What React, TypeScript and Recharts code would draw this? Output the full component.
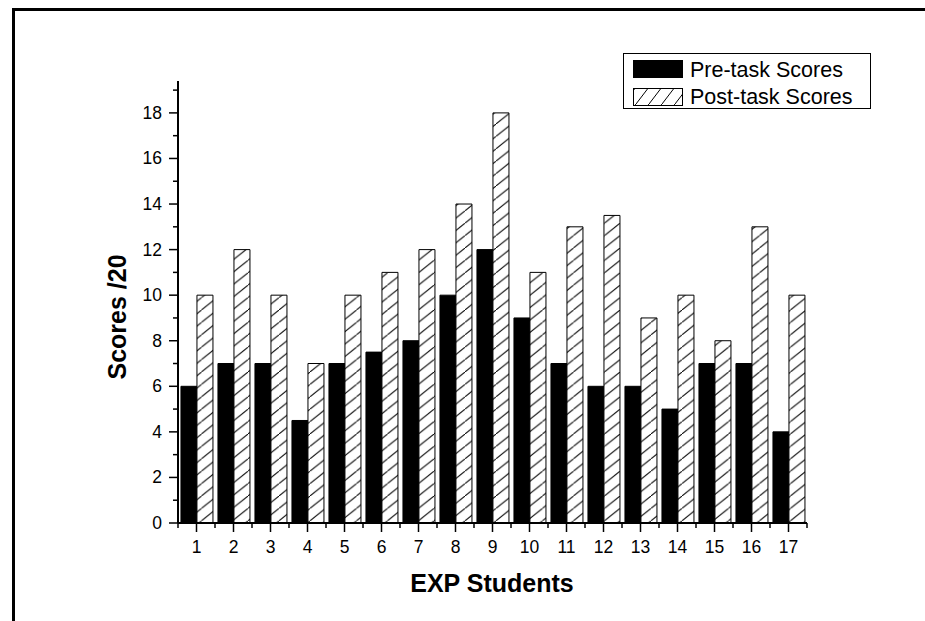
import { BarChart, Bar, XAxis, YAxis, Legend } from "recharts";

const students = ["1", "2", "3", "4", "5", "6", "7", "8", "9", "10", "11", "12", "13", "14", "15", "16", "17"];
const preScores = [6, 7, 7, 4.5, 7, 7.5, 8, 10, 12, 9, 7, 6, 6, 5, 7, 7, 4];
const postScores = [10, 12, 10, 7, 10, 11, 12, 14, 18, 11, 13, 13.5, 9, 10, 8, 13, 10];
const yTicks = [0, 1, 2, 3, 4, 5, 6, 7, 8, 9, 10, 11, 12, 13, 14, 15, 16, 17, 18, 19];

const data = students.map((s, i) => ({ name: s, pre: preScores[i], post: postScores[i] }));

const W = 925;
const H = 621;
const PLOT_LEFT = 178;
const PLOT_RIGHT = 807;
const PLOT_TOP = 81;
const PLOT_BOTTOM = 523;
const BAND = (PLOT_RIGHT - PLOT_LEFT) / students.length;
const FONT = "'Liberation Sans', Arial, sans-serif";

function YTick(props: any) {
    const { x, y, payload } = props;
    const major = payload.value % 2 === 0;
    return (
        <g>
            <line x1={x} x2={x - (major ? 9 : 5)} y1={y} y2={y} stroke="#000" strokeWidth={1.5} />
            {major && (
                <text x={x - 16} y={y} dy={6} textAnchor="end" fontSize={17.5} fontFamily={FONT} fill="#000">
                    {payload.value}
                </text>
            )}
        </g>
    );
}

function XTick(props: any) {
    const { x, y, payload, index } = props;
    const half = BAND / 2;
    return (
        <g>
            <line x1={x} x2={x} y1={y} y2={y + 9} stroke="#000" strokeWidth={1.5} />
            <line x1={x - half} x2={x - half} y1={y} y2={y + 5} stroke="#000" strokeWidth={1.5} />
            {index === students.length - 1 && (
                <line x1={x + half} x2={x + half} y1={y} y2={y + 5} stroke="#000" strokeWidth={1.5} />
            )}
            <text x={x} y={y + 30} textAnchor="middle" fontSize={17.5} fontFamily={FONT} fill="#000">
                {payload.value}
            </text>
        </g>
    );
}

function LegendBox() {
    return (
        <svg width={249} height={57} style={{ display: "block" }}>
            <defs>
                <pattern id="hatchLegend" patternUnits="userSpaceOnUse" width={13} height={17}>
                    <rect width={13} height={17} fill="#fff" />
                    <line x1={0} y1={17} x2={13} y2={0} stroke="#000" strokeWidth={1} />
                </pattern>
            </defs>
            <rect x={0.5} y={0.5} width={247} height={55} fill="#fff" stroke="#000" strokeWidth={1} />
            <rect x={10} y={7} width={50} height={18} fill="#000" />
            <rect x={10.5} y={35.5} width={49} height={17} fill="url(#hatchLegend)" stroke="#000" strokeWidth={1} />
            <text x={67} y={24} fontSize={21.5} fontFamily={FONT} fill="#000">Pre-task Scores</text>
            <text x={67} y={51} fontSize={21.5} fontFamily={FONT} fill="#000">Post-task Scores</text>
        </svg>
    );
}

export default function App() {
    return (
        <div style={{ position: "absolute", left: 0, top: 0, width: W, height: H, overflow: "hidden", background: "#fff" }}>
            {/* outer frame, clipped at right and bottom like the original */}
            <div style={{ position: "absolute", left: 12, top: 8, width: W, height: H, borderTop: "3px solid #000", borderLeft: "3px solid #000" }} />
            <div style={{ position: "absolute", left: 0, top: 0 }}>
                <BarChart
                    width={W}
                    height={H}
                    data={data}
                    margin={{ top: PLOT_TOP, right: W - PLOT_RIGHT, bottom: H - PLOT_BOTTOM - 40, left: PLOT_LEFT - 60 }}
                    barCategoryGap="8%"
                    barGap={0}
                >
                    <defs>
                        <pattern id="hatch" patternUnits="userSpaceOnUse" width={15.5} height={12.4}>
                            <rect width={15.5} height={12.4} fill="#fff" />
                            <line x1={0} y1={12.4} x2={15.5} y2={0} stroke="#000" strokeWidth={1} />
                        </pattern>
                    </defs>
                    <XAxis
                        dataKey="name"
                        height={40}
                        interval={0}
                        tickSize={0}
                        tickMargin={0}
                        tickLine={false}
                        axisLine={{ stroke: "#000", strokeWidth: 2 }}
                        tick={<XTick />}
                        label={() => (
                            <text x={492} y={592} textAnchor="middle" fontSize={25} fontWeight="bold" fontFamily={FONT} fill="#000">
                                EXP Students
                            </text>
                        )}
                    />
                    <YAxis
                        width={60}
                        type="number"
                        domain={[0, 19.4]}
                        ticks={yTicks}
                        interval={0}
                        tickSize={0}
                        tickMargin={0}
                        tickLine={false}
                        axisLine={{ stroke: "#000", strokeWidth: 2 }}
                        tick={<YTick />}
                        label={() => (
                            <text x={126} y={317} transform="rotate(-90, 126, 317)" textAnchor="middle" fontSize={25} fontWeight="bold" fontFamily={FONT} fill="#000">
                                Scores /20
                            </text>
                        )}
                    />
                    <Legend
                        layout="horizontal"
                        verticalAlign="middle"
                        align="center"
                        wrapperStyle={{ left: 623, top: 53, width: 249, height: 57 }}
                        content={() => <LegendBox />}
                    />
                    <Bar dataKey="pre" name="Pre-task Scores" fill="#000" stroke="#000" strokeWidth={1} isAnimationActive={false} />
                    <Bar dataKey="post" name="Post-task Scores" fill="url(#hatch)" stroke="#000" strokeWidth={1} isAnimationActive={false} />
                </BarChart>
            </div>
        </div>
    );
}
